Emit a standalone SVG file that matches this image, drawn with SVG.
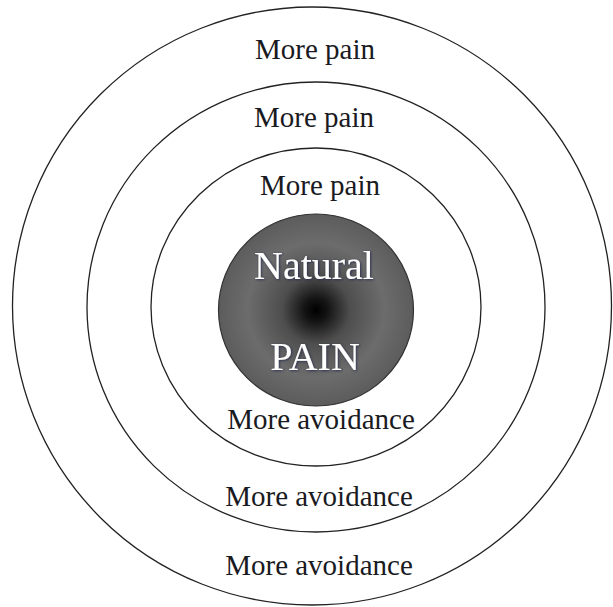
<svg xmlns="http://www.w3.org/2000/svg" width="613" height="607" viewBox="0 0 613 607">
  <style>
    .ring { fill: none; stroke: #222; stroke-width: 1.3; }
    .lbl { font-family: "Liberation Serif", "DejaVu Serif", serif; font-size: 29px; fill: #1a1a22; text-anchor: middle; }
    .core { font-family: "Liberation Serif", "DejaVu Serif", serif; font-size: 40px; fill: #ffffff; text-anchor: middle; }
  </style>
  <defs>
    <radialGradient id="coreGrad" cx="0.5" cy="0.5" r="0.5">
      <stop offset="0" stop-color="#000000"/>
      <stop offset="0.12" stop-color="#141414"/>
      <stop offset="0.35" stop-color="#4e4e4e"/>
      <stop offset="0.7" stop-color="#6c6c6c"/>
      <stop offset="1" stop-color="#5c5c5c"/>
    </radialGradient>
    <filter id="shadow" x="-10%" y="-20%" width="120%" height="140%">
      <feDropShadow dx="0.8" dy="0.8" stdDeviation="0.8" flood-color="#1c2350" flood-opacity="0.9"/>
    </filter>
  </defs>
  <rect width="613" height="607" fill="#ffffff"/>
  <g id="ring-outer">
    <ellipse class="ring" cx="312" cy="306" rx="299.5" ry="299"/>
    <text class="lbl" x="315" y="59">More pain</text>
    <text class="lbl" x="319" y="575">More avoidance</text>
  </g>
  <g id="ring-middle">
    <ellipse class="ring" cx="316" cy="307" rx="229" ry="225"/>
    <text class="lbl" x="314" y="127">More pain</text>
    <text class="lbl" x="319" y="506">More avoidance</text>
  </g>
  <g id="ring-inner">
    <ellipse class="ring" cx="316" cy="307" rx="165" ry="159"/>
    <text class="lbl" x="320" y="195">More pain</text>
    <text class="lbl" x="321" y="429">More avoidance</text>
  </g>
  <g id="core">
    <ellipse cx="316" cy="310" rx="97.5" ry="96" fill="url(#coreGrad)" stroke="#333" stroke-width="1.2"/>
    <text class="core" x="314" y="279" filter="url(#shadow)">Natural</text>
    <text class="core" x="315" y="370" filter="url(#shadow)">PAIN</text>
  </g>
  <g id="connectors"/>
</svg>
